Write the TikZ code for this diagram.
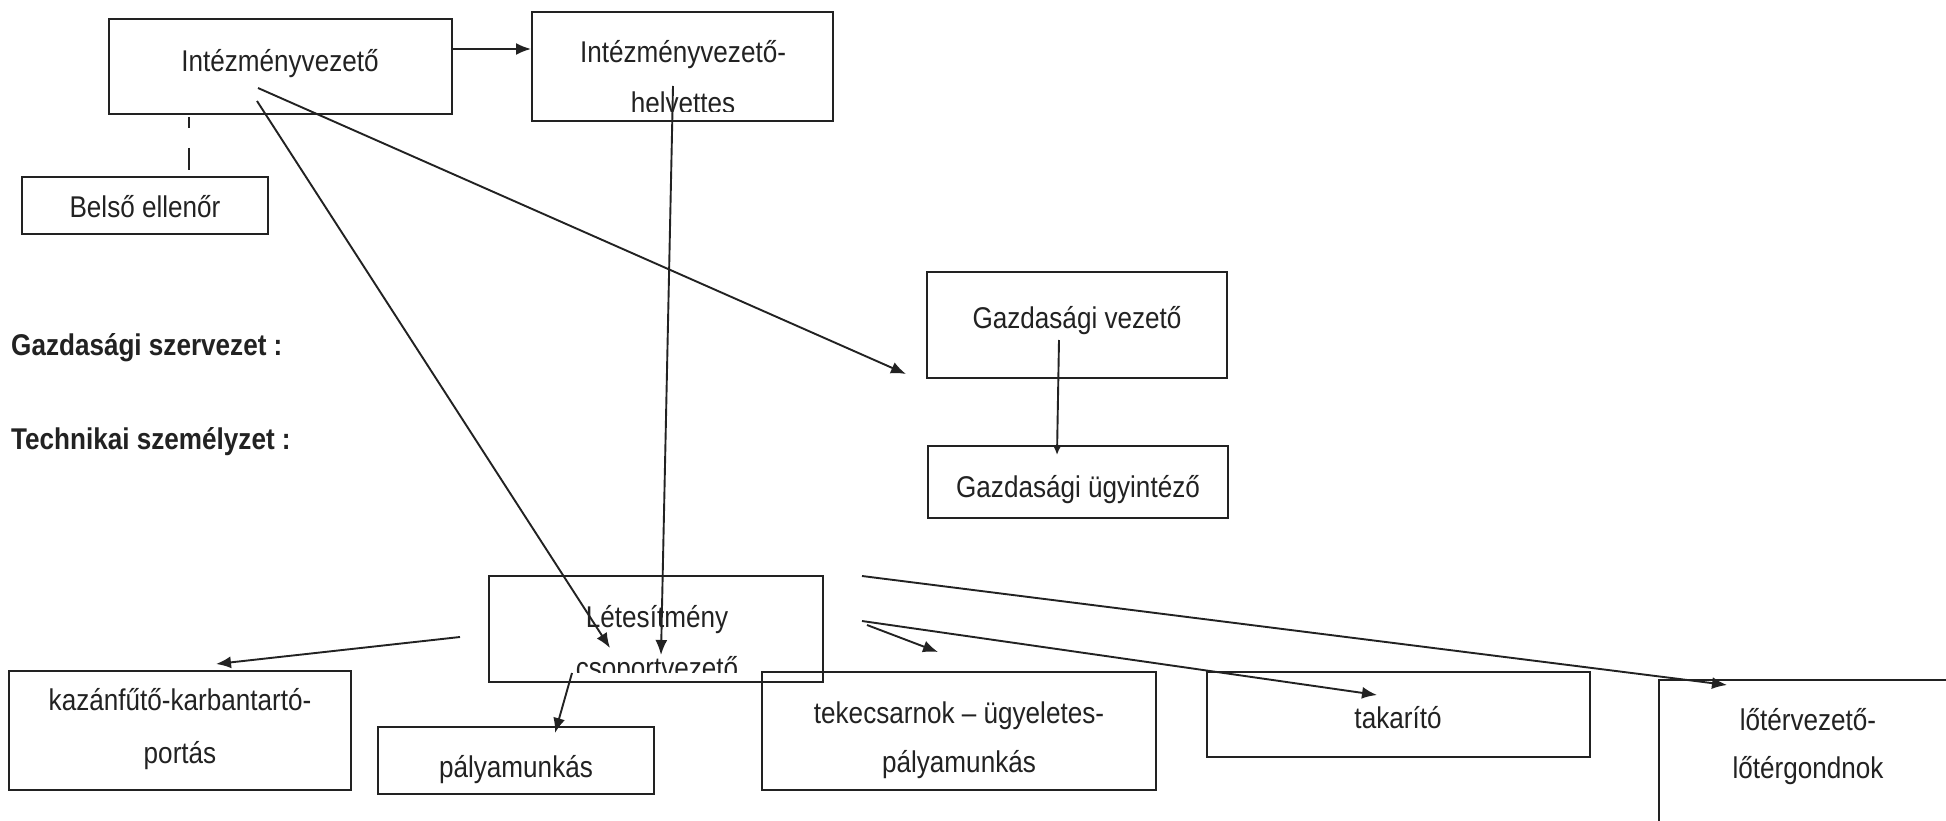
\documentclass[tikz,border=0pt]{standalone}
\usepackage{fontspec}
\setmainfont{Liberation Sans}[FakeStretch=0.87]
\usetikzlibrary{arrows.meta}
\definecolor{ink}{HTML}{222222}
\begin{document}
\begin{tikzpicture}[x=1pt,y=-1pt,
  box/.style={draw=ink, line width=2pt, inner sep=0pt},
  txt/.style={font=\fontsize{30}{36}\selectfont, text=ink, inner sep=0pt, anchor=base},
  hdr/.style={font=\fontsize{30}{36}\selectfont\bfseries, text=ink, inner sep=0pt, anchor=base west},
  conn/.style={draw=ink, line width=1.9pt},
  arr/.style={conn, -{Latex[length=15pt,width=12pt]}},
  sarr/.style={conn, -{Latex[length=9pt,width=8pt]}},
  brk/.style={conn, line width=1.4pt, dash pattern=on 11pt off 20pt on 22pt off 60pt}]
\clip (0,0) rectangle (1946,821);
\fill[white] (0,0) rectangle (1946,821);

% boxes
\node[box, minimum width=343pt, minimum height=95pt]  (iv) at (280.5,66.5) {};
\node[box, minimum width=301pt, minimum height=109pt] (ih) at (682.5,66.5) {};
\node[box, minimum width=246pt, minimum height=57pt]  (be) at (145,205.5) {};
\node[box, minimum width=300pt, minimum height=106pt] (gv) at (1077,325) {};
\node[box, minimum width=300pt, minimum height=72pt]  (gu) at (1078,482) {};
\node[box, minimum width=334pt, minimum height=106pt] (lc) at (656,629) {};
\node[box, minimum width=342pt, minimum height=119pt] (kz) at (180,730.5) {};
\node[box, minimum width=276pt, minimum height=67pt]  (pm) at (516,760.5) {};
\node[box, minimum width=394pt, minimum height=118pt] (tk) at (959,731) {};
\node[box, minimum width=383pt, minimum height=85pt]  (ta) at (1398.5,714.5) {};
\node[box, minimum width=301pt, minimum height=160pt] (lt) at (1809.5,760) {};

% texts
\node[txt] (ivt) at (280,72) {Intézményvezető};
\node[txt] (iht1) at (683,63) {Intézményvezető-};
\begin{scope}
  \clip (533,90) rectangle (832,112);
  \node[txt] (iht2) at (683,114) {helyettes};
\end{scope}
\node[txt] (bet) at (145,218) {Belső ellenőr};
\node[hdr] (h1) at (11,355) {Gazdasági szervezet :};
\node[hdr] (h2) at (11,449) {Technikai személyzet :};
\node[txt] (gvt) at (1077,328) {Gazdasági vezető};
\node[txt] (gut) at (1078,497) {Gazdasági ügyintéző};
\node[txt] (lct1) at (657,627) {Létesítmény};
\begin{scope}
  \clip (490,640) rectangle (822,672);
  \node[txt] (lct2) at (657,678) {csoportvezető};
\end{scope}
\node[txt] (kzt1) at (180,710) {kazánfűtő-karbantartó-};
\node[txt] (kzt2) at (180,763) {portás};
\node[txt] (pmt) at (516,777) {pályamunkás};
\node[txt] (tkt1) at (959,723) {tekecsarnok – ügyeletes-};
\node[txt] (tkt2) at (959,772) {pályamunkás};
\node[txt] (tat) at (1398,728) {takarító};
\node[txt] (ltt1) at (1808,730) {lőtérvezető-};
\node[txt] (ltt2) at (1808,778) {lőtérgondnok};

% connector end points
\coordinate (a1) at (452,49);   \coordinate (a2) at (531,49);
\coordinate (b1) at (189,117);  \coordinate (b2) at (189,176);
\coordinate (c1) at (258,88);   \coordinate (c2) at (906,374);
\coordinate (d1) at (257,101);  \coordinate (d2) at (610,648);
\coordinate (e1) at (673,86);   \coordinate (e2) at (661,655);
\coordinate (f1) at (1059,340); \coordinate (f2) at (1057,455);
\coordinate (g1) at (460,637);  \coordinate (g2) at (216,664);
\coordinate (h1s) at (572,673); \coordinate (h2s) at (555,733);
\coordinate (i1) at (867,625);  \coordinate (i2) at (938,652);
\coordinate (j1) at (862,621);  \coordinate (j2) at (1377,695);
\coordinate (k1) at (862,576);  \coordinate (k2) at (1727,685);

% connectors
\draw[arr] (a1) -- (a2);
\draw[brk] (b1) -- (b2);
\draw[arr] (c1) -- (c2);
\draw[arr] (d1) -- (d2);
\draw[arr] (e1) -- (e2);
\draw[sarr] (f1) -- (f2);
\draw[arr] (g1) -- (g2);
\draw[arr] (h1s) -- (h2s);
\draw[arr] (i1) -- (i2);
\draw[arr] (j1) -- (j2);
\draw[arr] (k1) -- (k2);
\end{tikzpicture}
\end{document}
